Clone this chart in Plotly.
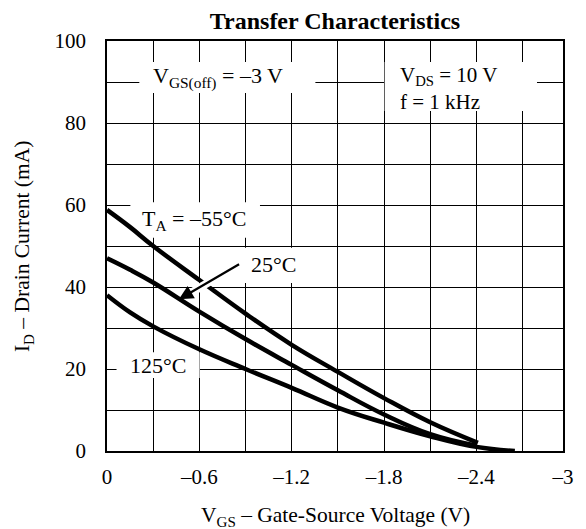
import plotly.graph_objects as go

# ---- data ----
vgs_m55 = [0, -0.15, -0.3, -0.6, -0.9, -1.2, -1.5, -1.8, -2.1, -2.41]
id_m55 = [58.8, 54.6, 50.0, 41.7, 33.5, 25.9, 19.3, 12.9, 7.0, 2.0]

vgs_25 = [0, -0.15, -0.3, -0.6, -0.9, -1.2, -1.5, -1.8, -2.1, -2.4]
id_25 = [47.0, 44.2, 41.1, 34.0, 27.3, 21.0, 14.8, 8.9, 4.1, 1.3]

vgs_125 = [0, -0.15, -0.3, -0.6, -0.9, -1.2, -1.5, -1.8, -2.1, -2.4, -2.65]
id_125 = [38.0, 33.8, 30.4, 24.8, 20.0, 15.4, 10.6, 6.9, 3.6, 1.0, 0.0]

x_tickvals = [0, -0.3, -0.6, -0.9, -1.2, -1.5, -1.8, -2.1, -2.4, -2.7, -2.963]
x_ticktext = ["0", "", "–0.6", "", "–1.2", "", "–1.8", "", "–2.4", "", "–3"]
y_tickvals = [0, 10, 20, 30, 40, 50, 60, 70, 80, 90, 100]
y_ticktext = ["0", "", "20", "", "40", "", "60", "", "80", "", "100"]

FONT = "Liberation Serif"

fig = go.Figure()
for xs, ys in [(vgs_m55, id_m55), (vgs_25, id_25), (vgs_125, id_125)]:
    fig.add_trace(go.Scatter(x=xs, y=ys, mode="lines",
                             line=dict(color="black", width=4.5, shape="spline", smoothing=1.2),
                             showlegend=False, hoverinfo="skip"))

# white label backgrounds (cover the grid, below the curves)
boxes = [(-0.210, -1.354, 87.3, 94.9),
         (-1.804, -2.794, 82.9, 94.9),
         (-0.152, -0.994, 52.0, 60.7),
         (-0.872, -1.277, 41.0, 49.6),
         (-0.062, -0.602, 17.8, 24.1)]
for x0, x1, y0, y1 in boxes:
    fig.add_shape(type="rect", x0=x0, x1=x1, y0=y0, y1=y1, xref="x", yref="y",
                  fillcolor="white", line=dict(width=0), layer="between")

tf = dict(family=FONT, size=22, color="black")
ann = [
    dict(x=-0.718, y=91.0, text="V<sub>GS(off)</sub> = –3 V", showarrow=False, font=tf),
    dict(x=-1.892, y=88.3, text="V<sub>DS</sub> = 10 V<br>f = 1 kHz", showarrow=False,
         font=dict(family=FONT, size=21, color="black"), xanchor="left", align="left"),
    dict(x=-0.564, y=56.4, text="T<sub>A</sub> = –55°C", showarrow=False, font=tf),
    dict(x=-1.084, y=45.4, text="25°C", showarrow=False, font=tf),
    dict(x=-0.332, y=20.9, text="125°C", showarrow=False, font=tf),
    # white halo of the arrow (cuts the -55 °C curve)
    dict(x=-0.533, y=38.3, ax=51.7, ay=-30.7, text="", showarrow=True, arrowhead=0,
         arrowwidth=8, arrowcolor="white", standoff=0),
    # arrow
    dict(x=-0.467, y=37.0, ax=61.7, ay=-36, text="", showarrow=True, arrowhead=2,
         arrowsize=1.3, arrowwidth=2.2, arrowcolor="black", standoff=0),
    # axis titles
    dict(xref="paper", yref="paper", x=0.5, y=-0.16, text="V<sub>GS</sub> – Gate-Source Voltage (V)",
         showarrow=False, font=dict(family=FONT, size=21.5, color="black"), yanchor="middle"),
    dict(xref="paper", yref="paper", x=-0.184, y=0.5, text="I<sub>D</sub> – Drain Current (mA)",
         showarrow=False, textangle=-90, font=dict(family=FONT, size=21.5, color="black"),
         xanchor="center", yanchor="middle"),
]
fig.update_layout(annotations=ann)

fig.update_layout(
    width=586, height=529,
    margin=dict(l=107, r=18, t=41, b=78),
    paper_bgcolor="white", plot_bgcolor="white",
    title=dict(text="<b>Transfer Characteristics</b>", x=0.5, xref="paper",
               y=1 - 21.0 / 529, yref="container", yanchor="middle", xanchor="center",
               font=dict(family=FONT, size=24, color="black")),
    font=dict(family=FONT, size=21, color="black"),
)
fig.update_xaxes(range=[0, -2.963], tickmode="array", tickvals=x_tickvals, ticktext=x_ticktext,
                 showgrid=True, gridcolor="black", gridwidth=1.2, zeroline=False,
                 showline=True, mirror=True, linecolor="black", linewidth=1.5,
                 ticks="", ticklabelstandoff=6, tickfont=dict(family=FONT, size=21))
fig.update_yaxes(range=[0, 100], tickmode="array", tickvals=y_tickvals, ticktext=y_ticktext,
                 showgrid=True, gridcolor="black", gridwidth=1.2, zeroline=False,
                 showline=True, mirror=True, linecolor="black", linewidth=1.5,
                 ticks="", ticklabelstandoff=15, tickfont=dict(family=FONT, size=21))

fig.write_html("out.html")
